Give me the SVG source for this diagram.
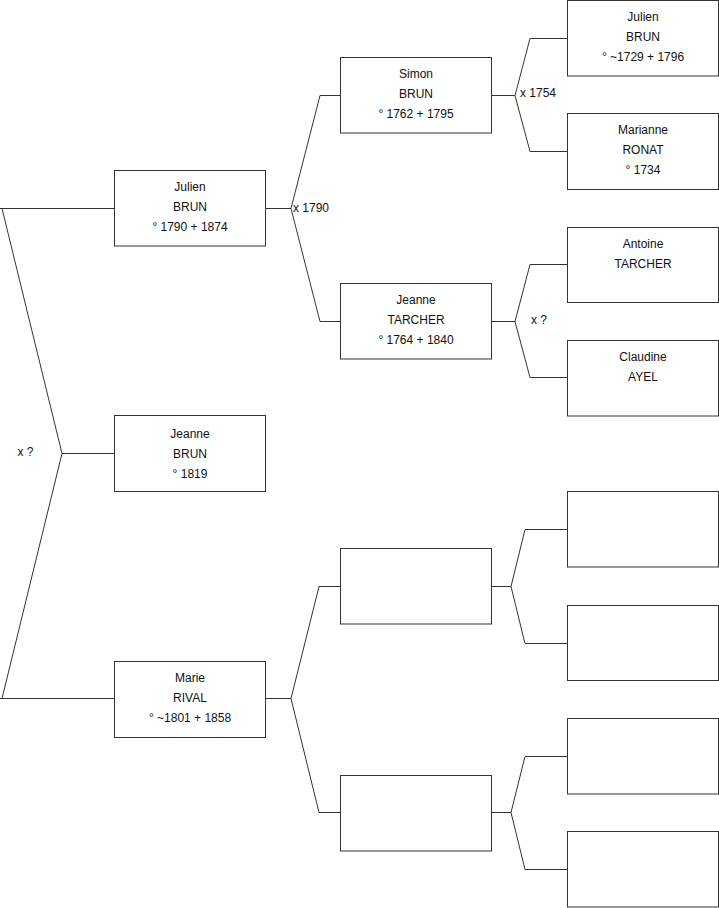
<svg xmlns="http://www.w3.org/2000/svg" width="719" height="908" viewBox="0 0 719 908">
<style>
.box{fill:#fff;stroke:#333;stroke-width:1}
.ln{fill:none;stroke:#333;stroke-width:1}
text{font-family:"Liberation Sans",Arial,sans-serif;font-size:12px;fill:#111}
.c{text-anchor:middle}
</style>
<rect width="719" height="908" fill="#fff"/>
<g id="connectors">
<polyline class="ln" points="114,208.5 0,208.5 2,208.5 62,453.5 2,698.5 0,698.5 114,698.5"/>
<line class="ln" x1="62" y1="453.5" x2="114" y2="453.5"/>
<line class="ln" x1="265" y1="208.5" x2="291" y2="208.5"/>
<polyline class="ln" points="340,95.5 320,95.5 291,208.5 320,321.5 340,321.5"/>
<line class="ln" x1="491" y1="95.5" x2="515" y2="95.5"/>
<polyline class="ln" points="567,38.5 530,38.5 515,95.5 530,151.5 567,151.5"/>
<line class="ln" x1="491" y1="321.5" x2="515" y2="321.5"/>
<polyline class="ln" points="567,264.5 530,264.5 515,321.5 530,377.5 567,377.5"/>
<line class="ln" x1="265" y1="698.5" x2="291" y2="698.5"/>
<polyline class="ln" points="340,586.5 319,586.5 291,698.5 319,812.5 340,812.5"/>
<line class="ln" x1="491" y1="586.5" x2="511" y2="586.5"/>
<polyline class="ln" points="567,529.5 525,529.5 511,586.5 525,643.5 567,643.5"/>
<line class="ln" x1="491" y1="812.5" x2="511" y2="812.5"/>
<polyline class="ln" points="567,756.5 525,756.5 511,812.5 525,869.5 567,869.5"/>
<text x="17.5" y="456">x ?</text>
<text x="293" y="212">x 1790</text>
<text x="520" y="97">x 1754</text>
<text x="531" y="324">x ?</text>
</g>
<g id="julien-brun-1790">
<rect class="box" x="114.5" y="170.5" width="151" height="75.5"/>
<text class="c" x="190" y="191">Julien</text>
<text class="c" x="190" y="211">BRUN</text>
<text class="c" x="190" y="231">° 1790 + 1874</text>
</g>
<g id="jeanne-brun">
<rect class="box" x="114.5" y="415.5" width="151" height="76"/>
<text class="c" x="190" y="438">Jeanne</text>
<text class="c" x="190" y="458">BRUN</text>
<text class="c" x="190" y="478">° 1819</text>
</g>
<g id="marie-rival">
<rect class="box" x="114.5" y="661.5" width="151" height="76"/>
<text class="c" x="190" y="682">Marie</text>
<text class="c" x="190" y="702">RIVAL</text>
<text class="c" x="190" y="722">° ~1801 + 1858</text>
</g>
<g id="simon-brun">
<rect class="box" x="340.5" y="57.5" width="151" height="75.5"/>
<text class="c" x="416" y="78">Simon</text>
<text class="c" x="416" y="98">BRUN</text>
<text class="c" x="416" y="118">° 1762 + 1795</text>
</g>
<g id="jeanne-tarcher">
<rect class="box" x="340.5" y="283.5" width="151" height="75.5"/>
<text class="c" x="416" y="304">Jeanne</text>
<text class="c" x="416" y="324">TARCHER</text>
<text class="c" x="416" y="344">° 1764 + 1840</text>
</g>
<g id="unknown-father-marie">
<rect class="box" x="340.5" y="548.5" width="151" height="75.5"/>
</g>
<g id="unknown-mother-marie">
<rect class="box" x="340.5" y="775.5" width="151" height="75.5"/>
</g>
<g id="julien-brun-1729">
<rect class="box" x="567.5" y="0.5" width="151" height="75.5"/>
<text class="c" x="643" y="21">Julien</text>
<text class="c" x="643" y="41">BRUN</text>
<text class="c" x="643" y="61">° ~1729 + 1796</text>
</g>
<g id="marianne-ronat">
<rect class="box" x="567.5" y="113.5" width="151" height="76"/>
<text class="c" x="643" y="134">Marianne</text>
<text class="c" x="643" y="154">RONAT</text>
<text class="c" x="643" y="174">° 1734</text>
</g>
<g id="antoine-tarcher">
<rect class="box" x="567.5" y="227.5" width="151" height="75"/>
<text class="c" x="643" y="248">Antoine</text>
<text class="c" x="643" y="268">TARCHER</text>
</g>
<g id="claudine-ayel">
<rect class="box" x="567.5" y="340.5" width="151" height="75.5"/>
<text class="c" x="643" y="361">Claudine</text>
<text class="c" x="643" y="381">AYEL</text>
</g>
<g id="unknown-gen3-1">
<rect class="box" x="567.5" y="491.5" width="151" height="75.5"/>
</g>
<g id="unknown-gen3-2">
<rect class="box" x="567.5" y="605.5" width="151" height="75"/>
</g>
<g id="unknown-gen3-3">
<rect class="box" x="567.5" y="718.5" width="151" height="75.5"/>
</g>
<g id="unknown-gen3-4">
<rect class="box" x="567.5" y="831.5" width="151" height="75.5"/>
</g>
</svg>
